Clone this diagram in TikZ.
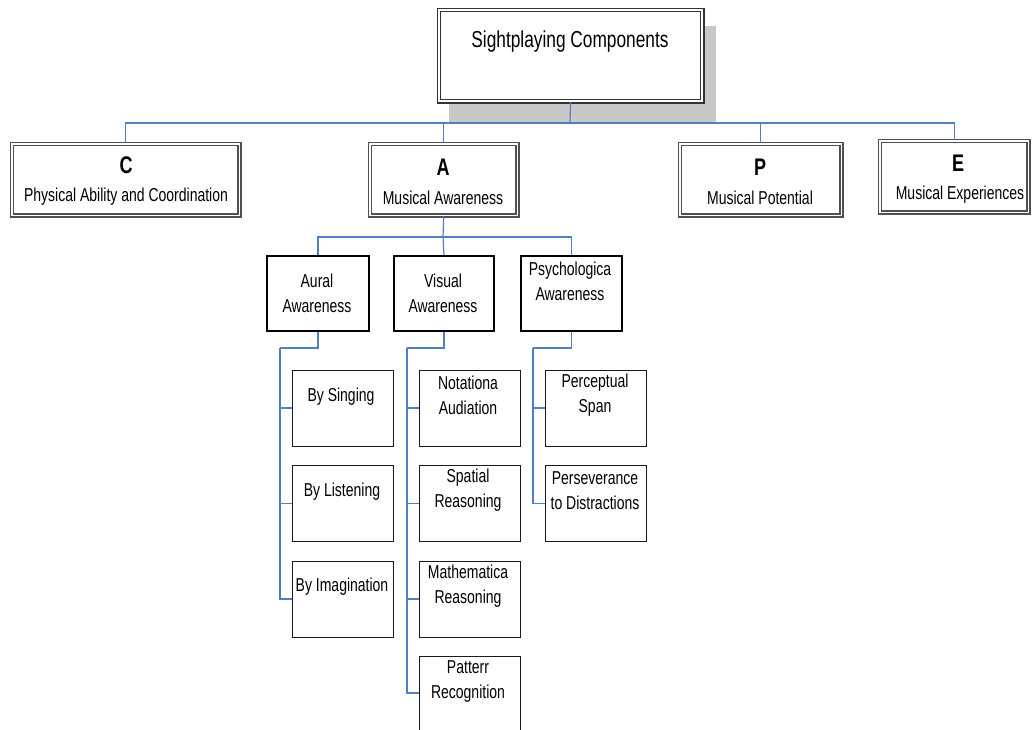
\documentclass[tikz,border=0pt]{standalone}
\usepackage{fontspec}
\setmainfont[FakeStretch=0.75]{Liberation Sans}
\definecolor{connblue}{RGB}{79,129,189}
\definecolor{shadowgray}{RGB}{200,200,200}
\definecolor{framegray}{RGB}{80,80,80}
\newcommand\mybox[6]{\node[#1, anchor=north west, inner sep=0pt, minimum width={(#4-#2)*0.75pt}, minimum height={(#5-#3)*0.75pt}] (#6) at (#2,#3) {};}
\begin{document}
\begin{tikzpicture}[x=0.75pt,y=-0.75pt,
  topbox/.style={draw=black!80, line width=0.9pt, double=white, double distance=1.5pt, fill=white},
  lvlone/.style={draw=framegray, line width=1.1pt, double=white, double distance=1.1pt, fill=white},
  lvltwo/.style={draw=black, line width=1.5pt, fill=white},
  lvlthree/.style={draw=black!90, line width=0.85pt, fill=white},
  conn/.style={draw=connblue, line width=0.9pt},
  lbl/.style={font=\fontsize{14}{18.75}\selectfont, align=center, inner sep=0pt},
  bigletter/.style={font=\fontsize{18}{20}\selectfont\bfseries, inner sep=0pt},
  toplbl/.style={font=\fontsize{17.3}{20}\selectfont, inner sep=0pt}]
\useasboundingbox (0,0) rectangle (1032,729);
\fill[white] (0,0) rectangle (1032,729);
% shadow of top box
\fill[shadowgray] (449,26) rectangle (716,122);
% top box
\mybox{topbox}{438.2}{9.2}{701.8}{100.8}{top}
% level 1
\mybox{lvlone}{11.2}{143.2}{238.8}{214.8}{C}
\mybox{lvlone}{369.2}{143.2}{516.8}{214.8}{A}
\mybox{lvlone}{679.2}{143.2}{840.8}{214.8}{P}
\mybox{lvlone}{879.2}{140.2}{1027.8}{211.8}{E}
% level 2
\mybox{lvltwo}{266}{255}{368}{330}{aural}
\mybox{lvltwo}{393}{255}{493}{330}{visual}
\mybox{lvltwo}{520}{255}{621}{330}{psych}
% level 3 aural
\mybox{lvlthree}{291.5}{369.5}{392.5}{445.5}{sing}
\mybox{lvlthree}{291.5}{465}{392.5}{541}{listen}
\mybox{lvlthree}{291.5}{560.5}{392.5}{636.5}{imag}
% level 3 visual
\mybox{lvlthree}{418.5}{369.5}{519.5}{445.5}{nota}
\mybox{lvlthree}{418.5}{465}{519.5}{541}{spat}
\mybox{lvlthree}{418.5}{560.5}{519.5}{636.5}{math}
\mybox{lvlthree}{418.5}{655.5}{519.5}{750}{patt}
% level 3 psych
\mybox{lvlthree}{544.5}{369.5}{645.5}{445.5}{perc}
\mybox{lvlthree}{544.5}{465}{645.5}{541}{pers}
% connector coordinates
\coordinate (bar1) at (570,123);
\coordinate (bar2) at (443,237);
\coordinate (sp1) at (280,348);
\coordinate (sp2) at (407,348);
\coordinate (sp3) at (533,348);
% connectors level 1
\draw[conn] (top.south) -- (bar1);
\draw[conn] (C.north) |- (bar1);
\draw[conn] (A.north) |- (bar1);
\draw[conn] (P.north) |- (bar1);
\draw[conn] (E.north) |- (bar1);
% connectors level 2
\draw[conn] (A.south) -- (bar2);
\draw[conn] (aural.north) |- (bar2);
\draw[conn] (visual.north) -- (bar2);
\draw[conn] (psych.north) |- (bar2);
% connectors level 3
\draw[conn] (aural.south) |- (sp1);
\draw[conn] (sp1) |- (sing.west);
\draw[conn] (sp1) |- (listen.west);
\draw[conn] (sp1) |- (imag.west);
\draw[conn] (visual.south) |- (sp2);
\draw[conn] (sp2) |- (nota.west);
\draw[conn] (sp2) |- (spat.west);
\draw[conn] (sp2) |- (math.west);
\draw[conn] (sp2) |- (patt.west |- 0,693);
\draw[conn] (psych.south) |- (sp3);
\draw[conn] (sp3) |- (perc.west);
\draw[conn] (sp3) |- (pers.west);
% texts
\node[toplbl] (ttop) at (570,42) {Sightplaying Components};
\node[bigletter] (lC) at (126,165) {C};
\node[bigletter] (lA) at (443,167) {A};
\node[bigletter] (lP) at (760,167) {P};
\node[bigletter] (lE) at (958,163) {E};
\node[lbl] (tC) at (126,197) {Physical Ability and Coordination};
\node[lbl] (tA) at (443,198) {Musical Awareness};
\node[lbl] (tP) at (760,198) {Musical Potential};
\node[lbl] (tE) at (960,195) {Musical Experiences};
\node[lbl] (taural) at (317,293.5) {Aural\\Awareness};
\node[lbl] (tvisual) at (443,293.5) {Visual\\Awareness};
\node[lbl] (tpsych) at (570,281) {Psychologica\\Awareness};
\node[lbl] (tsing) at (341,396.5) {By Singing};
\node[lbl] (tlisten) at (342,491.5) {By Listening};
\node[lbl] (timag) at (342,586.5) {By Imagination};
\node[lbl] (tnota) at (468,395) {Notationa\\Audiation};
\node[lbl] (tspat) at (468,490.5) {Spatial\\Reasoning};
\node[lbl] (tmath) at (468,586.5) {Mathematica\\Reasoning};
\node[lbl] (tpatt) at (468,681.5) {Patterr\\Recognition};
\node[lbl] (tperc) at (595,395) {Perceptual\\Span};
\node[lbl] (tpers) at (595,490.5) {Perseverance\\to Distractions};
\end{tikzpicture}
\end{document}
